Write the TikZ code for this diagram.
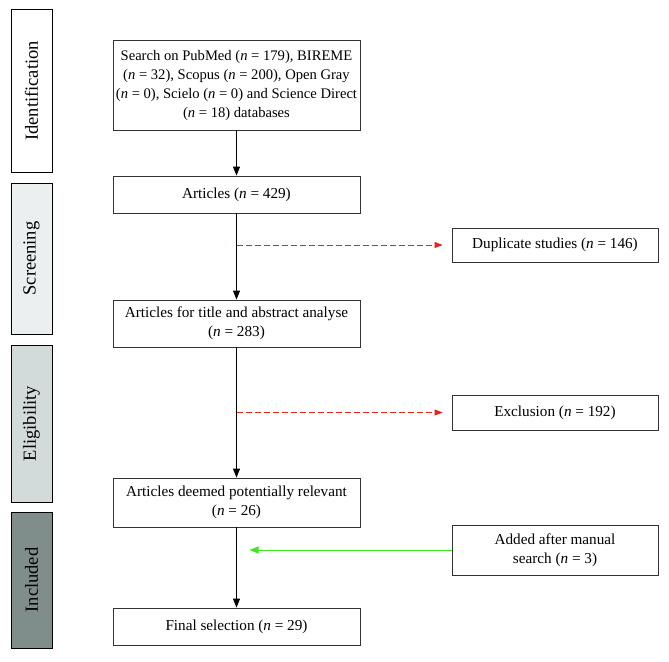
\documentclass[tikz,border=0pt]{standalone}
\usepackage{fontspec}
\setmainfont{Liberation Serif}
\usetikzlibrary{positioning}
\usetikzlibrary{arrows.meta}

\definecolor{screencol}{HTML}{EBEFF0}
\definecolor{eligcol}{HTML}{D3DADA}
\definecolor{inclcol}{HTML}{7F8D8B}
\definecolor{dupred}{HTML}{E8231E}
\definecolor{addgreen}{HTML}{3EE81E}

\tikzset{
  stagebox/.style={draw=black,line width=0.9pt,minimum width=41pt,inner sep=0pt},
  stagetext/.style={font=\fontsize{18.5}{20}\selectfont,rotate=90},
  mainbox/.style={draw=black!80,line width=0.8pt,minimum width=247pt,inner xsep=0pt,inner ysep=2pt,align=center,font=\fontsize{15.2}{19}\selectfont},
  sidebox/.style={draw=black!80,line width=0.8pt,minimum width=206pt,inner xsep=0pt,inner ysep=2pt,align=center,font=\fontsize{15.2}{19}\selectfont},
  flow/.style={-{Triangle[width=7pt,length=9pt]},line width=0.8pt},
  dropped/.style={-{Triangle[width=6pt,length=8pt]},dashed,dupred,line width=0.9pt,dash pattern=on 6pt off 3pt},
  added/.style={-{Triangle[width=7pt,length=9pt]},addgreen,line width=0.9pt}
}

\begin{document}
\begin{tikzpicture}[x=1pt,y=-1pt]
\useasboundingbox[fill=white] (0,0) rectangle (669,661);

% stages
\node[stagebox,minimum height=163pt] (ident) at (31.5,91) {};
\node[stagetext] at (ident) {Identification};
\node[stagebox,fill=screencol,minimum height=151pt] (screen) at (31.5,258.5) {};
\node[stagetext] at (screen) {Screening};
\node[stagebox,fill=eligcol,minimum height=157pt] (elig) at (31.5,423.5) {};
\node[stagetext] at (elig) {Eligibility};
\node[stagebox,fill=inclcol,minimum height=136pt] (incl) at (31.5,580) {};
\node[stagetext] at (incl) {Included};

% main column
\node[mainbox,minimum height=90pt,font=\fontsize{14.6}{19}\selectfont] (search) at (236.5,85) {Search on PubMed (\textit{n} = 179), BIREME\\(\textit{n} = 32), Scopus (\textit{n} = 200), Open Gray\\(\textit{n} = 0), Scielo (\textit{n} = 0) and Science Direct\\(\textit{n} = 18) databases};
\node[mainbox,minimum height=37pt] (articles) at (236.5,194.5) {Articles (\textit{n} = 429)};
\node[mainbox,minimum height=47pt] (title) at (236.5,323.5) {Articles for title and abstract analyse\\(\textit{n} = 283)};
\node[mainbox,minimum height=49pt] (relevant) at (236.5,502.5) {Articles deemed potentially relevant\\(\textit{n} = 26)};
\node[mainbox,minimum height=37pt] (final) at (236.5,626.5) {Final selection (\textit{n} = 29)};

% side column
\node[sidebox,minimum height=34pt] (dup) at (555,245) {Duplicate studies (\textit{n} = 146)};
\node[sidebox,minimum height=35pt] (excl) at (555,412.5) {Exclusion (\textit{n} = 192)};
\node[sidebox,minimum height=50pt] (manual) at (555,550) {Added after manual\\search (\textit{n} = 3)};

\coordinate (dupstart) at (articles.south |- dup.west);
\coordinate (exclstart) at (title.south |- excl.west);
\coordinate (manualend) at ([xshift=13pt]relevant.south |- manual.west);

\draw[flow] (search) -- (articles);
\draw[flow] (articles) -- (title);
\draw[flow] (title) -- (relevant);
\draw[flow] (relevant) -- (final);

\draw[dropped,shorten >=9pt] (dupstart) -- (dup.west);
\draw[dropped,shorten >=9pt] (exclstart) -- (excl.west);
\draw[added] (manual.west) -- (manualend);

\end{tikzpicture}
\end{document}
